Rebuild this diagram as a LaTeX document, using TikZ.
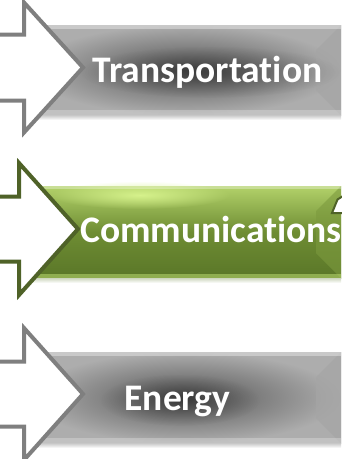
\documentclass[tikz,border=0pt]{standalone}
\usepackage{fontspec}
\newfontfamily\labelfont[Ligatures=NoCommon]{Carlito}
\usetikzlibrary{fadings}

\definecolor{arrowgray}{HTML}{7F7F7F}
\definecolor{arrowgreen}{HTML}{4F6228}
\definecolor{boxdark}{HTML}{555555}
\definecolor{boxlight}{HTML}{ADADAD}
\definecolor{boxbevel}{HTML}{A5A5A5}
\definecolor{greentop}{HTML}{B3D26A}
\definecolor{greenmid}{HTML}{6E8D33}
\definecolor{greenbot}{HTML}{5A7628}
\definecolor{greenhi}{HTML}{D6F28C}
\definecolor{greenbevel}{HTML}{7C9A3E}

\tikzfading[name=softspot, inner color=transparent!0, outer color=transparent!100]

\tikzset{
  chevron/.style={fill=white, line width=4pt, line join=miter},
  lbl/.style={anchor=base, inner sep=0pt, text=white,
    font=\labelfont\bfseries\fontsize{37.5}{40}\selectfont},
  halo/.style={fill=black, opacity=0.35, path fading=softspot},
}

% gray bevelled panel between heights #1 and #2
\newcommand\graypanel[2]{%
  \shade[inner color=boxdark, outer color=boxlight] (30,#1) rectangle (341,#2);
  \fill[boxbevel, opacity=0.75] (341,#1) -- (316,#1+25) -- (316,#2-25) -- (341,#2) -- cycle;
  \fill[white, opacity=0.35] (30,#1) rectangle (341,#1+4);
  \fill[white, opacity=0.25] (30,#2-5) rectangle (341,#2);
  \shade[top color=black!22, bottom color=white] (30,#2) rectangle (341,#2+5);
}

% block arrow: centre height, shoulder x, tip x, shaft half-height, head half-height
\newcommand\blockarrow[6]{%
  \draw[chevron, draw=#6] (-6,#1-#4) -- (#2,#1-#4) -- (#2,#1-#5) -- (#3,#1)
    -- (#2,#1+#5) -- (#2,#1+#4) -- (-6,#1+#4);
}

\begin{document}
\begin{tikzpicture}[x=1pt, y=-1pt]
\useasboundingbox (0,0) rectangle (341,459);

% --- Transportation ---
\graypanel{25}{115}
\fill[halo] (210,72) ellipse (130 and 26);
\blockarrow{67.5}{24}{83}{33}{65}{arrowgray}
\node[lbl] (t1) at (207.5,82) {Transportation};

% --- Communications (green) ---
\shade[top color=greentop, bottom color=greenbot, middle color=greenmid] (30,186) rectangle (341,278);
\fill[greenhi, path fading=softspot] (140,195) ellipse (90 and 14);
\fill[greenbevel, opacity=0.6] (341,186) -- (316,211) -- (316,253) -- (341,278) -- cycle;
\fill[white, opacity=0.3] (30,186) rectangle (341,189);
\fill[greentop, opacity=0.6] (30,274) rectangle (341,278);
\shade[top color=greenbot!30, bottom color=white] (30,278) rectangle (341,283);
\draw[fill=white, draw=arrowgreen, line width=2pt] (332,213) -- (337.5,199.5) -- (343,196) -- (343,213) -- cycle;
\blockarrow{229}{19}{78}{32.5}{66}{arrowgreen}
\node[lbl] (t2) at (211,242) {Communications};

% --- Energy ---
\graypanel{352}{443}
\fill[halo] (180,400) ellipse (80 and 26);
\blockarrow{394}{24}{83}{32.5}{66}{arrowgray}
\node[lbl] (t3) at (177.5,410) {Energy};
\end{tikzpicture}
\end{document}
